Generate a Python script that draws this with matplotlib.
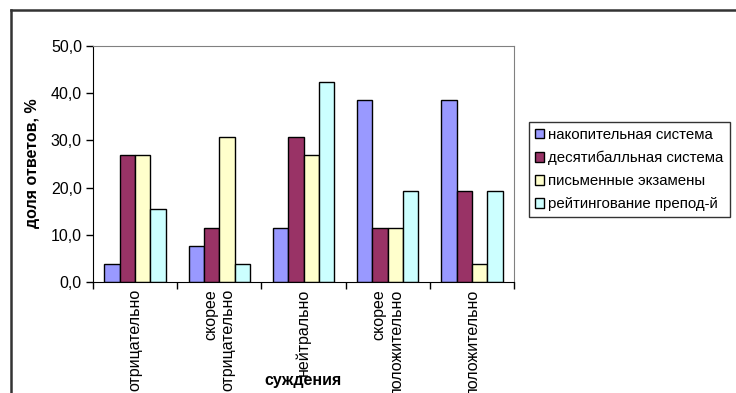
import numpy as np
import matplotlib.pyplot as plt
from matplotlib.lines import Line2D

plt.rcParams['font.family'] = ['Liberation Sans', 'DejaVu Sans']

categories = ['отрицательно', 'скорее\nотрицательно', 'нейтрально',
              'скорее\nположительно', 'положительно']
series_names = ['накопительная система', 'десятибалльная система',
                'письменные экзамены', 'рейтингование препод-й']
nakopit = [3.8, 7.7, 11.5, 38.5, 38.5]
desyatib = [26.9, 11.5, 30.8, 11.5, 19.2]
pismen = [26.9, 30.8, 26.9, 11.5, 3.8]
reiting = [15.4, 3.8, 42.3, 19.2, 19.2]
colors = ['#9999FF', '#993366', '#FFFFCC', '#CCFFFF']

W, H = 736, 393
fs = 11.5
fig = plt.figure(figsize=(W / 100, H / 100), dpi=100)
ax = fig.add_axes([93 / W, 1 - 282 / H, (514 - 93) / W, (282 - 46) / H])

x = np.arange(len(categories))
w = 1 / 5.5
series = [nakopit, desyatib, pismen, reiting]
for i, (vals, name, c) in enumerate(zip(series, series_names, colors)):
    ax.bar(x + (i - 1.5) * w, vals, w, color=c, edgecolor='black',
           linewidth=1, label=name)

ax.set_xlim(-0.5, len(categories) - 0.5)
ax.set_ylim(0, 50)
ax.set_yticks(np.arange(0, 51, 10))
ax.set_yticklabels([f'{v:.1f}'.replace('.', ',') for v in range(0, 51, 10)],
                   fontsize=fs)
ax.tick_params(axis='y', direction='out', length=5, width=1, pad=3)

ax.set_xticks(np.arange(-0.5, len(categories)), minor=False)
ax.set_xticklabels([])
ax.set_xticks(x, minor=True)
ax.set_xticklabels(categories, minor=True, rotation=90, fontsize=fs,
                   va='top', ha='center', multialignment='right')
ax.tick_params(axis='x', which='major', direction='out', length=5, width=1)
ax.tick_params(axis='x', which='minor', length=0, pad=5)

for s in ['left', 'bottom']:
    ax.spines[s].set_color('black')
for s in ['top', 'right']:
    ax.spines[s].set_color('#808080')

fig.text(33 / W, 1 - 163 / H, 'доля ответов, %', rotation=90, fontsize=fs,
         fontweight='bold', ha='center', va='center')
fig.text(303 / W, 1 - 380 / H, 'суждения', fontsize=fs, fontweight='bold',
         ha='center', va='center')

leg = ax.legend(loc='upper left', bbox_to_anchor=(529 / W, 1 - 122 / H),
                bbox_transform=fig.transFigure, fontsize=10.8, frameon=True,
                fancybox=False, edgecolor='black', handlelength=0.6,
                handleheight=0.6, handletextpad=0.3, borderpad=0.4,
                labelspacing=0.6, borderaxespad=0)
leg.get_frame().set_linewidth(1)

# outer chart border
fig.add_artist(Line2D([10.5 / W, 10.5 / W], [0, 1 - 10 / H], color='#333333',
                      linewidth=1.8, transform=fig.transFigure))
fig.add_artist(Line2D([10.5 / W, 1], [1 - 10 / H, 1 - 10 / H], color='#333333',
                      linewidth=1.8, transform=fig.transFigure))

fig.savefig('out.png', dpi=100)
